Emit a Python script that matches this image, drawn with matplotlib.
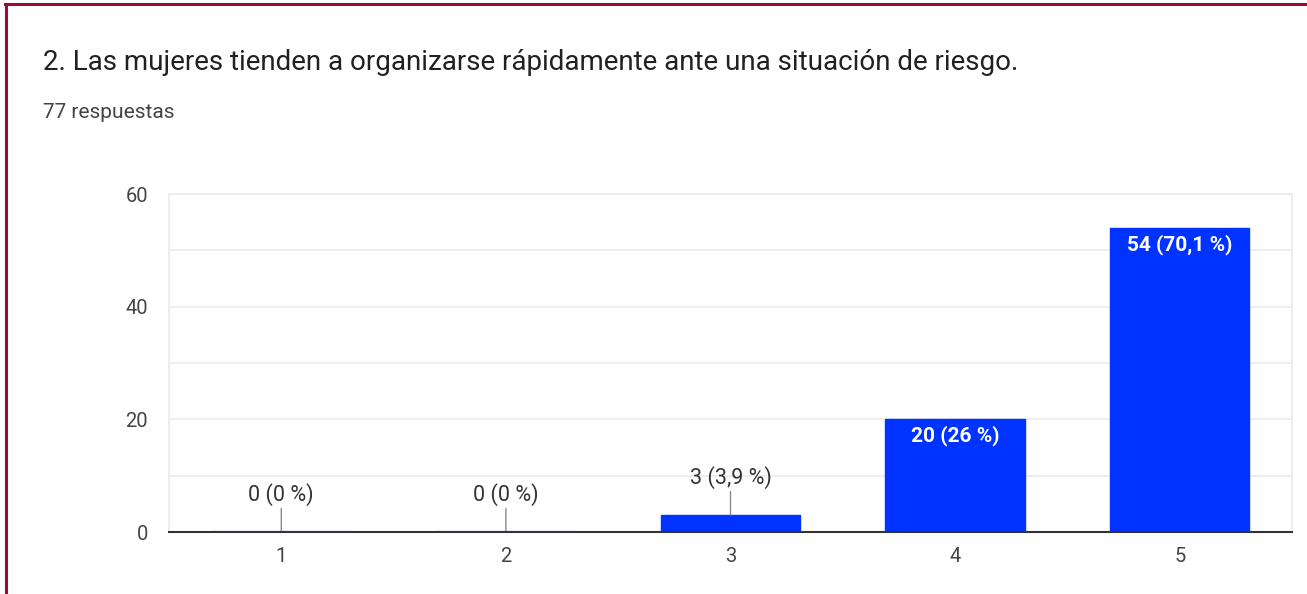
import matplotlib
matplotlib.use("Agg")
import matplotlib.pyplot as plt
from matplotlib.lines import Line2D

categories = ["1", "2", "3", "4", "5"]
counts = [0, 0, 3, 20, 54]
labels = ["0 (0 %)", "0 (0 %)", "3 (3,9 %)", "20 (26 %)", "54 (70,1 %)"]
yticks = [0, 20, 40, 60]
title = "2. Las mujeres tienden a organizarse rápidamente ante una situación de riesgo."
subtitle = "77 respuestas"

plt.rcParams['font.family'] = ['Roboto', 'DejaVu Sans']

W, H = 1307, 594
fig = plt.figure(figsize=(W / 100, H / 100), dpi=100)
fig.patch.set_facecolor('white')

# axes placement in pixels
left, right, top, bottom = 169, 1292, 194, 532
ax = fig.add_axes([left / W, 1 - bottom / H, (right - left) / W, (bottom - top) / H])

xs = list(range(1, len(categories) + 1))
bar_color = '#0033ff'
edgecolors = ['#c9d3fb' if c == 0 else bar_color for c in counts]
linewidths = [2.5 if c == 0 else 1.0 for c in counts]
ax.bar(xs, counts, width=0.62, color=bar_color, edgecolor=edgecolors,
       linewidth=linewidths, zorder=3)

ax.set_xlim(0.5, len(categories) + 0.5)
ax.set_ylim(0, 60)
ax.set_yticks(range(0, 61, 10))
ax.set_yticklabels([str(v) if v in yticks else "" for v in range(0, 61, 10)])
ax.set_xticks(xs)
ax.set_xticklabels(categories)
ax.grid(axis='y', color='#ebebeb', linewidth=1.2, zorder=0)
ax.tick_params(axis='both', length=0, labelsize=14.5, colors='#444444')
ax.tick_params(axis='y', pad=15)
ax.tick_params(axis='x', pad=11)
for s in ['top', 'left', 'right']:
    ax.spines[s].set_color('#ebebeb')
    ax.spines[s].set_linewidth(1.2)
ax.spines['bottom'].set_color('#333333')
ax.spines['bottom'].set_linewidth(1.5)
ax.spines['bottom'].set_zorder(4)

for x, c, lab in zip(xs, counts, labels):
    if c < 10:
        ax.annotate('', xy=(x, c), xytext=(0, 17), textcoords='offset points',
                    arrowprops=dict(arrowstyle='-', color='#8a8a8a', lw=1.0,
                                    shrinkA=0, shrinkB=0), zorder=4)
        ax.annotate(lab, xy=(x, c), xytext=(0, 18.5), textcoords='offset points',
                    ha='center', va='bottom', fontsize=15.5, color='#333333', zorder=5)
    else:
        ax.annotate(lab, xy=(x, c), xytext=(0, -12), textcoords='offset points',
                    ha='center', va='center', fontsize=15, color='white',
                    fontweight='bold', zorder=5)

fig.text(43 / W, 1 - 62 / H, title, fontsize=20, color='#202124', ha='left', va='center')
fig.text(43 / W, 1 - 113 / H, subtitle, fontsize=15, color='#444444', ha='left', va='center')

# frame border (left and top)
border = '#9b0a3c'
fig.add_artist(Line2D([6 / W, 6 / W], [0, 1 - 4 / H], transform=fig.transFigure,
                      color=border, linewidth=2.2))
fig.add_artist(Line2D([5 / W, 1], [1 - 4 / H, 1 - 4 / H], transform=fig.transFigure,
                      color=border, linewidth=2.2))

fig.savefig('out.png', dpi=100, facecolor='white')
